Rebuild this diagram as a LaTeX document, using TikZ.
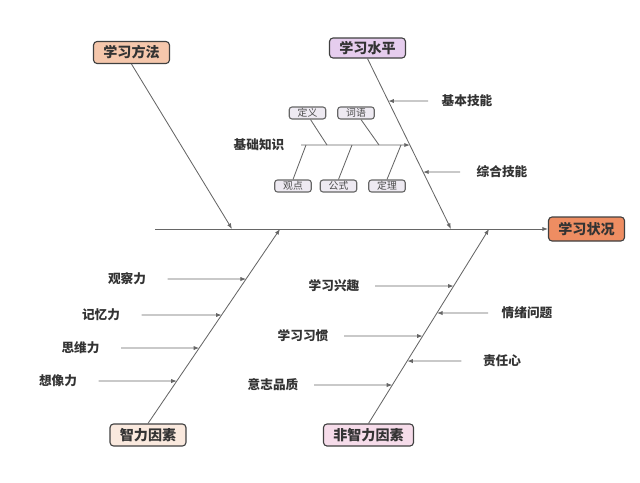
\documentclass[tikz,border=0pt]{standalone}
\usepackage{fontspec}
\setmainfont{Noto Sans CJK SC}
\usepackage{tikz}
\usetikzlibrary{arrows.meta,calc}
\definecolor{headfill}{HTML}{EE8D62}
\definecolor{methodfill}{HTML}{F5C7AC}
\definecolor{levelfill}{HTML}{E6CDEE}
\definecolor{iqfill}{HTML}{FAE9DE}
\definecolor{noniqfill}{HTML}{F6DCEA}
\definecolor{itemfill}{HTML}{EEEAF2}

\begin{document}
\begin{tikzpicture}[x=0.025cm,y=-0.025cm,
    every node/.style={font=\bfseries\fontsize{9}{10}\selectfont, text=black!80, inner sep=1pt},
    bone/.style={draw=black!60, line width=0.6pt},
    rib/.style={draw=black!60, line width=0.6pt, -{Latex[length=4pt,width=3pt]}},
    cause/.style={draw=black!75, line width=0.8pt, rounded corners=2.5pt,
        font=\bfseries\fontsize{10}{12}\selectfont, inner xsep=7pt, minimum height=0.55cm},
    item/.style={draw=black!60, line width=0.8pt, fill=itemfill, rounded corners=2pt, text=black!70,
        font=\fontsize{7}{8}\selectfont, inner xsep=6pt, inner ysep=1pt, minimum height=0.3cm}]
\useasboundingbox (0,0) rectangle (640,482);

% head and the four causes
\node[cause, fill=headfill, minimum height=0.6cm] (head) at (586.5,229) {学习状况};
\node[cause, fill=methodfill] (method) at (131.5,52.5) {学习方法};
\node[cause, fill=levelfill, minimum height=0.5cm] (level) at (367.5,48) {学习水平};
\node[cause, fill=iqfill] (iq) at (148,435) {智力因素};
\node[cause, fill=noniqfill] (noniq) at (368.5,435) {非智力因素};

% spine and main bones
\coordinate (tail) at (155,229);
\coordinate (m) at (232,229);
\coordinate (l) at (451,229);
\coordinate (q) at (280,229);
\coordinate (n) at (489,229);
\draw[rib] (tail) -- (head.west);
\draw[rib] (method.south) -- (m);
\draw[rib] (level.south) -- (l);
\draw[rib] (iq.north) -- (q);
\draw[rib] (noniq.north) -- (n);

% 学习水平
\node (basic) at (467,101) {基本技能};
\node (whole) at (502,172) {综合技能};
\node (base) at (259,145) {基础知识};
\draw[rib] ($(basic.west)+(-12,0)$) -- (intersection of level.south--l and basic.west--basic.east);
\draw[rib] ($(whole.west)+(-15,0)$) -- (intersection of level.south--l and whole.west--whole.east);
\draw[rib] ($(base.east)+(15,0)$) -- (intersection of level.south--l and base.west--base.east);

\node[item] (def) at (307.5,113) {定义};
\node[item] (word) at (356,113) {词语};
\node[item] (view) at (293,186) {观点};
\node[item] (formula) at (338.5,186) {公式};
\node[item] (theorem) at (387,186) {定理};
\coordinate (k1) at (327,145);
\coordinate (k2) at (379,145);
\coordinate (k3) at (306,145);
\coordinate (k4) at (352,145);
\coordinate (k5) at (401,145);
\draw[bone] ($(def.south)+(3,0)$) -- (k1);
\draw[bone] ($(word.south)+(5,0)$) -- (k2);
\draw[bone] (view.north) -- (k3);
\draw[bone] (formula.north) -- (k4);
\draw[bone] (theorem.north) -- (k5);

% 智力因素
\node (observe) at (127,279) {观察力};
\node (memory) at (101,315) {记忆力};
\node (think) at (80.5,348) {思维力};
\node (imagine) at (58,381) {想像力};
\draw[rib] ($(observe.east)+(20,0)$) -- (intersection of iq.north--q and observe.west--observe.east);
\draw[rib] ($(memory.east)+(20,0)$) -- (intersection of iq.north--q and memory.west--memory.east);
\draw[rib] ($(think.east)+(20,0)$) -- (intersection of iq.north--q and think.west--think.east);
\draw[rib] ($(imagine.east)+(20,0)$) -- (intersection of iq.north--q and imagine.west--imagine.east);

% 非智力因素
\node (interest) at (334,286) {学习兴趣};
\node (habit) at (303,336) {学习习惯};
\node (will) at (273,385) {意志品质};
\node (mood) at (527,313) {情绪问题};
\node (duty) at (502,361) {责任心};
\draw[rib] ($(interest.east)+(14,0)$) -- (intersection of noniq.north--n and interest.west--interest.east);
\draw[rib] ($(habit.east)+(14,0)$) -- (intersection of noniq.north--n and habit.west--habit.east);
\draw[rib] ($(will.east)+(14,0)$) -- (intersection of noniq.north--n and will.west--will.east);
\draw[rib] ($(mood.west)+(-12,0)$) -- (intersection of noniq.north--n and mood.west--mood.east);
\draw[rib] ($(duty.west)+(-20,0)$) -- (intersection of noniq.north--n and duty.west--duty.east);
\end{tikzpicture}
\end{document}
